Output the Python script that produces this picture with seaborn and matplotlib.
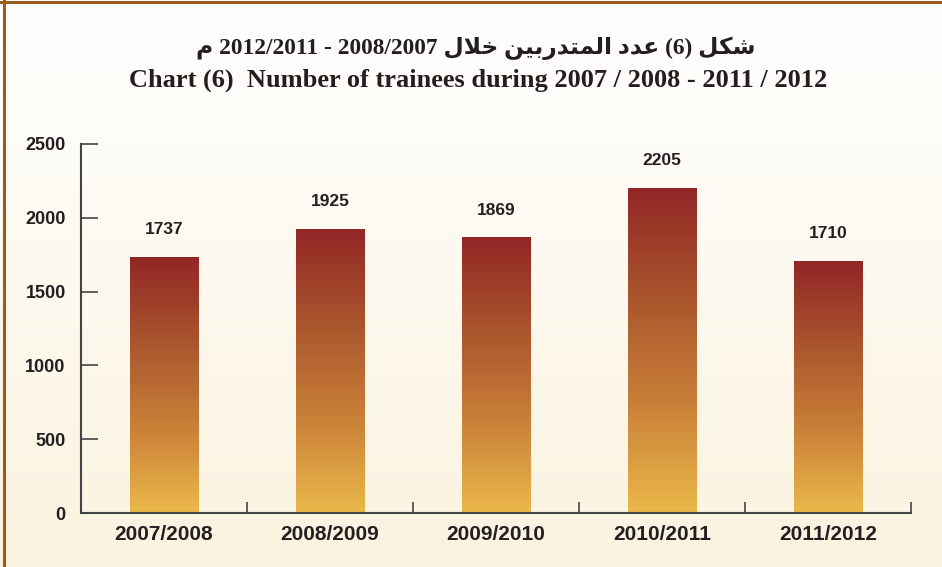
import matplotlib
matplotlib.use("Agg")
import matplotlib.pyplot as plt
import seaborn as sns
import numpy as np
import pandas as pd
from matplotlib.colors import LinearSegmentedColormap
from matplotlib.lines import Line2D

# data
years = ["2007/2008", "2008/2009", "2009/2010", "2010/2011", "2011/2012"]
trainees = [1737, 1925, 1869, 2205, 1710]
y_ticks = [0, 500, 1000, 1500, 2000, 2500]

# Arabic title line, already in visual (left-to-right) order with joined glyph forms
title_ar = ("\uFEE1 2012/2011 - 2008/2007 \uFEDD\uFEFC\uFEA7 "
            "\uFEE6\uFEF4\uFE91\uFEAD\uFEAA\uFE98\uFEE4\uFEDF\uFE8D "
            "\uFEA9\uFEAA\uFECB (6) \uFEDE\uFEDC\uFEB7")
title_en = "Chart (6)  Number of trainees during 2007 / 2008 - 2011 / 2012"

df = pd.DataFrame({"year": years, "trainees": trainees})

sns.set_style("white")
plt.rcParams["font.family"] = ["Liberation Sans", "DejaVu Sans"]

fig = plt.figure(figsize=(9.42, 5.67), dpi=100)

# background gradient, white at top to cream at bottom
bg = fig.add_axes([0, 0, 1, 1], zorder=-10)
bg_cmap = LinearSegmentedColormap.from_list("bg", ["#FBF3DF", "#FFFFFF"])
bg.imshow(np.linspace(0, 1, 256).reshape(-1, 1), aspect="auto", cmap=bg_cmap,
          origin="lower", extent=[0, 1, 0, 1])
bg.set_axis_off()

# frame lines top and left
fig.add_artist(Line2D([0, 1], [1 - 2.2 / 567] * 2, color="#9B5A1C", lw=2.2,
                      transform=fig.transFigure))
fig.add_artist(Line2D([4 / 942] * 2, [0, 1], color="#9B5A1C", lw=2.2,
                      transform=fig.transFigure))

ax = fig.add_axes([81 / 942, 54 / 567, 830 / 942, 369 / 567])
ax.patch.set_alpha(0)

sns.barplot(data=df, x="year", y="trainees", ax=ax, width=0.41,
            color="#B5602F", saturation=1)

# swap flat bars for a vertical gradient
bar_cmap = LinearSegmentedColormap.from_list(
    "bar", ["#EBB84A", "#C98038", "#A9552D", "#922626"])
grad = np.linspace(0, 1, 256).reshape(-1, 1)
for p in ax.patches:
    x0, y0 = p.get_x(), p.get_y()
    w, h = p.get_width(), p.get_height()
    im = ax.imshow(grad, aspect="auto", cmap=bar_cmap, origin="lower",
                   extent=[x0, x0 + w, y0, y0 + h], zorder=2)
    im.set_clip_path(p)
    p.set_alpha(0)

for i, v in enumerate(trainees):
    ax.annotate(str(v), (i, v), xytext=(0, 14), textcoords="offset points",
                ha="center", va="bottom", fontsize=12.5, fontweight="bold",
                color="#231F20")

ax.set_xlim(-0.5, 4.5)
ax.set_ylim(0, 2500)
ax.set_yticks(y_ticks)
ax.set_xticks(np.arange(0.5, 5, 1))
ax.set_xticklabels([])
ax.set_xticks(range(len(years)), minor=True)
ax.set_xticklabels(years, minor=True, fontsize=15, fontweight="bold",
                   color="#231F20")
ax.tick_params(axis="x", which="major", bottom=True, direction="in", length=8,
               width=1.2, color="#444444")
ax.tick_params(axis="x", which="minor", bottom=False, length=0, pad=9)
ax.tick_params(axis="y", left=True, direction="in", length=12, width=1.2,
               color="#444444", pad=11, labelsize=13,
               labelcolor="#231F20")
for lab in ax.get_yticklabels():
    lab.set_fontweight("bold")
ax.set_xlabel("")
ax.set_ylabel("")
for s in ["top", "right"]:
    ax.spines[s].set_visible(False)
for s in ["left", "bottom"]:
    ax.spines[s].set_color("#444444")
    ax.spines[s].set_linewidth(1.5)

fig.text(476 / 942, 1 - 48 / 567, title_ar, ha="center", va="center",
         fontsize=16.8, fontweight="bold",
         family=["Liberation Serif", "DejaVu Sans"], color="#231F20")
fig.text(478 / 942, 1 - 80 / 567, title_en, ha="center", va="center",
         fontsize=19, fontweight="bold", family="Liberation Serif",
         color="#231F20")

fig.savefig("out.png", dpi=100)
